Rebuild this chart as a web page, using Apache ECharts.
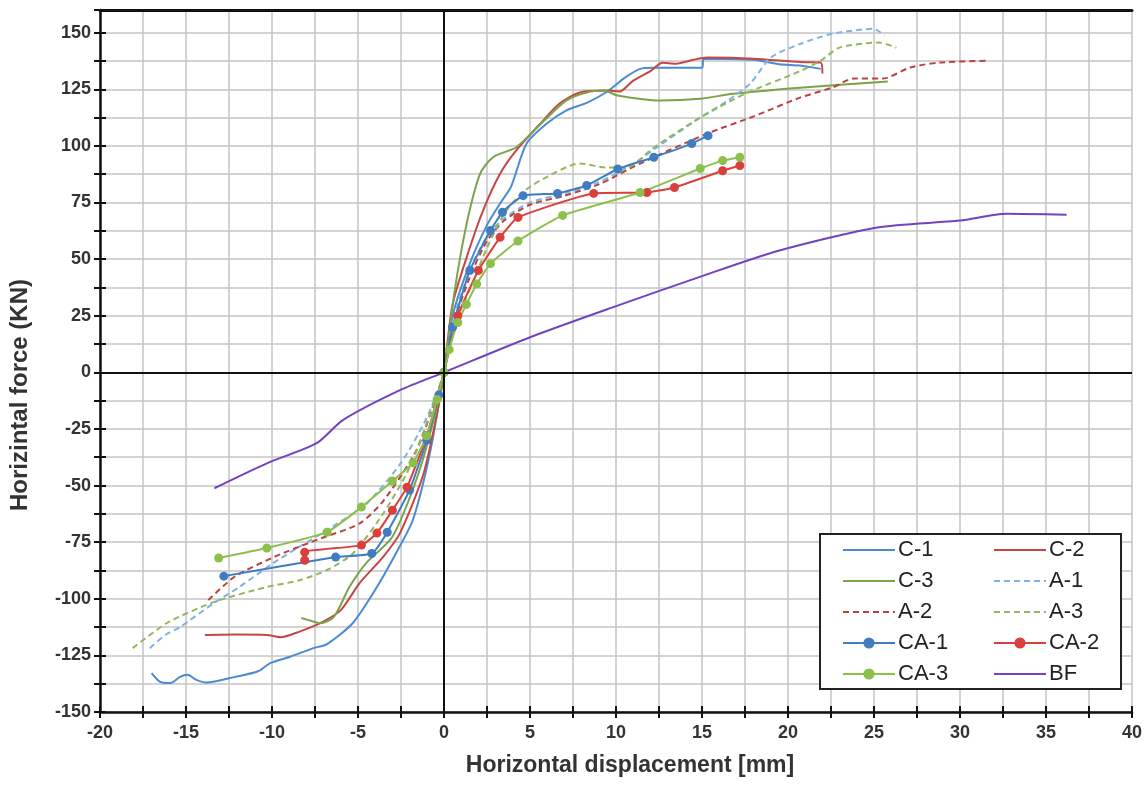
<!DOCTYPE html>
<html>
<head>
<meta charset="utf-8">
<script src="https://cdn.jsdelivr.net/npm/echarts@6/dist/echarts.min.js"></script>
<style>html,body{margin:0;padding:0;background:#fff}#c{width:1146px;height:787px}</style>
</head>
<body>
<div id="c"></div>
<script>
// ---- data: [displacement mm, force kN] ----
const seriesNames = ['C-1','C-2','C-3','A-1','A-2','A-3','CA-1','CA-2','CA-3','BF'];
const xTicks = [-20,-15,-10,-5,0,5,10,15,20,25,30,35,40];
const yTicks = [-150,-125,-100,-75,-50,-25,0,25,50,75,100,125,150];

const c1 = [[-17,-132.8],[-16.5,-136.7],[-15.9,-137.2],[-15.35,-134.5],[-14.9,-133.6],[-14.4,-135.8],[-13.8,-137],[-12.2,-134.6],[-10.8,-132],[-10.1,-128.4],[-8.95,-125.6],[-7.6,-121.8],[-6.8,-120],[-5.3,-110.7],[-3.9,-94.8],[-2.8,-80],[-1.8,-65],[-0.8,-35],[0,0],[0.5,25],[1.5,48],[2.5,65],[3.3,75],[3.9,82],[4.8,101],[6,110],[7.1,115.6],[8.3,119],[9.5,124],[10.5,130],[11.4,134],[12.2,134.5],[15,134.5],[15.1,138.5],[18,138],[19.5,136],[20.7,135.5],[21.9,134]];
const c2 = [[-13.9,-116],[-12,-115.8],[-10.3,-116],[-9.5,-117],[-8.4,-114.5],[-7.2,-110.8],[-6.0,-105],[-4.9,-93],[-3.55,-81.6],[-2.56,-71],[-1.2,-45],[-0.4,-18],[0,0],[0.5,30],[1.5,55],[2.3,72],[3.26,87.7],[4.2,98],[5.6,109.8],[6.7,118.6],[7.9,123.6],[9.5,124.4],[10.2,124],[11,128.8],[12,133],[12.7,136.7],[13.5,136.3],[14.5,138],[15.3,139],[18,138.5],[20.7,137],[21.9,136.8],[22,132]];
const c3 = [[-8.3,-108.5],[-7.6,-110],[-7.2,-110.8],[-6.4,-108],[-5.5,-94.8],[-4.5,-84],[-3.0,-72.6],[-1.5,-45],[-0.5,-18],[0,0],[0.6,35],[1.3,65],[2.1,87.7],[2.85,95],[4.2,99.4],[5.8,111],[7.1,120],[8.3,123.6],[9.3,124.4],[10.1,122.2],[12.6,120],[14.9,120.8],[16.8,123],[20.7,125.7],[25.8,128.4]];
const a1 = [[-17.1,-121.8],[-16.2,-116],[-15.35,-112.5],[-13.4,-102],[-11.9,-94.8],[-9.94,-84.3],[-8.4,-77],[-6.45,-68],[-4.5,-58],[-2.5,-40],[-1,-20],[0,0],[0.5,22],[1.5,45],[2.5,60],[3.5,68],[5,75],[7,79],[9,84],[11,92],[12.5,100],[14.9,112.5],[16.5,120],[17.8,127.5],[19,139],[20.7,145],[22.6,149.5],[25,151.7],[25.6,148.6]];
const a2 = [[-13.7,-100.6],[-12.2,-90.4],[-9.9,-81.6],[-7.4,-74],[-4.9,-66.7],[-3.5,-56.5],[-1.6,-34.4],[-0.5,-12],[0,0],[0.5,20],[1.5,42],[2.5,58],[3.5,67],[5,74],[7,78],[9,83],[11.4,92.2],[15.3,105.4],[18,113],[20.7,121.3],[22.6,125.8],[23.8,129.7],[25.5,129.7],[27.1,134.6],[28.8,136.8],[31.7,137.6]];
const a3 = [[-18.1,-121.8],[-16.1,-110.7],[-13.4,-101.5],[-10.3,-94.8],[-8.4,-91.8],[-6.8,-87.3],[-5.3,-80],[-3.5,-62],[-2,-42],[-0.8,-18],[0,0],[0.4,15],[1.0,28],[1.7,40],[2.5,55],[3.5,70],[4.5,79],[5.6,84.7],[7.9,92.2],[9.5,90.4],[10.6,90.4],[12.2,99.3],[14.9,112.5],[17.5,123],[20.7,133],[21.9,137.6],[23.0,143.4],[25.3,145.6],[26.3,143.4]];
const ca1 = [[-12.8,-90],[-6.3,-81.6],[-4.2,-80],[-3.3,-70.6],[-2.0,-52],[-1,-30],[-0.3,-10],[0,0],[0.5,20],[1.5,45],[2.7,62.6],[3.4,70.7],[4.6,78],[6.6,79],[8.3,82.5],[10.1,89.8],[12.2,95],[14.4,101],[15.35,104.5]];
const ca2 = [[-8.1,-83],[-8.1,-79.4],[-4.8,-76.3],[-3.9,-71],[-3.0,-60.9],[-2.15,-50.7],[-1,-28],[0,0],[0.8,25],[2,45],[3.26,59.6],[4.3,68.4],[8.7,79],[11.8,79.4],[13.4,81.6],[16.2,89],[17.2,91.3]];
const ca3 = [[-13.1,-82],[-10.3,-77.6],[-6.8,-70.6],[-4.8,-59.5],[-3,-48],[-1.8,-40],[-1.0,-28],[-0.4,-12],[0,0],[0.3,10],[0.8,22],[1.3,30],[1.9,39],[2.7,48],[4.3,58],[6.9,69.3],[11.4,79.4],[14.9,90],[16.2,93.5],[17.2,95]];
const bf = [[-13.35,-51.2],[-10.3,-40.2],[-7.4,-31.3],[-5.9,-21.2],[-2.56,-7.9],[0,0],[5,15.5],[9.8,28.7],[15,42.5],[19.5,53.8],[25.2,64],[30,67],[32.7,70],[36.2,69.6]];

const colors = {
  'C-1':'#4a8bd2','C-2':'#c44744','C-3':'#7ba34a','A-1':'#7fb2e5','A-2':'#b8433f','A-3':'#92b75c',
  'CA-1':'#3f7cc2','CA-2':'#d9403b','CA-3':'#8cc04c','BF':'#7442c0'
};
const markerSeries = ['CA-1','CA-2','CA-3'];
const FONT = '"Liberation Sans", Arial, sans-serif';

function lineSeries(name, data, opts) {
  opts = opts || {};
  return Object.assign({
    name: name, type: 'line', data: data,
    smooth: opts.marker ? 0.15 : 0.25,
    symbol: opts.marker ? 'circle' : 'none',
    symbolSize: 9,
    showSymbol: !!opts.marker,
    color: colors[name],
    lineStyle: { width: 2, type: opts.dashed ? [6, 4] : 'solid', color: colors[name] },
    itemStyle: { color: colors[name] },
    animation: false, z: 3
  }, opts.extra || {});
}

const series = [
  lineSeries('C-1', c1),
  lineSeries('C-2', c2),
  lineSeries('C-3', c3),
  lineSeries('A-1', a1, {dashed: true}),
  lineSeries('A-2', a2, {dashed: true}),
  lineSeries('A-3', a3, {dashed: true}),
  lineSeries('CA-1', ca1, {marker: true}),
  lineSeries('CA-2', ca2, {marker: true}),
  lineSeries('CA-3', ca3, {marker: true}),
  lineSeries('BF', bf, {extra: {
    markLine: {
      silent: true, symbol: 'none', animation: false,
      label: { show: false },
      lineStyle: { color: '#111', width: 2, type: 'solid' },
      data: [{ xAxis: 0 }, { yAxis: 0 }]
    }
  }})
];

function legendItems(names) {
  return names.map(n => markerSeries.indexOf(n) >= 0 ? { name: n } : { name: n, itemStyle: { opacity: 0 } });
}

const legendCommon = {
  orient: 'vertical', padding: 0, itemWidth: 52, itemHeight: 14, itemGap: 9,
  textStyle: { fontFamily: FONT, fontSize: 22, color: '#222', lineHeight: 22, padding: [0,0,0,-2] },
  z: 10
};

const tickAxisCommon = {
  axisLine: { show: false, onZero: false }, axisLabel: { show: false }, splitLine: { show: false },
  axisTick: { show: true, inside: true, length: 6, lineStyle: { color: '#111', width: 2 } }
};

const option = {
  backgroundColor: '#fff',
  animation: false,
  grid: { left: 100, right: 14, top: 10, bottom: 75, containLabel: false },
  graphic: [{
    type: 'rect', z: 5,
    shape: { x: 820, y: 534, width: 301, height: 155 },
    style: { fill: '#fff', stroke: '#222', lineWidth: 2 }
  }],
  legend: [
    Object.assign({}, legendCommon, { left: 842, top: 539, data: legendItems(['C-1','C-3','A-2','CA-1','CA-3']) }),
    Object.assign({}, legendCommon, { left: 993, top: 539, data: legendItems(['C-2','A-1','A-3','CA-2','BF']) })
  ],
  xAxis: [{
    type: 'value', min: -20, max: 40, interval: 2.5,
    name: 'Horizontal displacement [mm]', nameLocation: 'middle', nameGap: 42,
    nameTextStyle: { fontFamily: FONT, fontSize: 23, fontWeight: 'bold', color: '#333', padding: [0,0,0,28] },
    axisLine: { onZero: false, lineStyle: { color: '#111', width: 2.5 } },
    axisTick: { show: true, length: 6, lineStyle: { color: '#111', width: 2 } },
    axisLabel: { fontFamily: FONT, fontSize: 18, fontWeight: 'bold', color: '#333', margin: 12,
      formatter: v => (xTicks.indexOf(v) >= 0 ? String(v) : '') },
    splitLine: { show: true, lineStyle: { color: '#c4c4c4', width: 1.5 } }
  }, {
    type: 'value', position: 'top', min: -20, max: 40,
    axisLine: { onZero: false, lineStyle: { color: '#111', width: 3 } },
    axisTick: { show: false }, axisLabel: { show: false }, splitLine: { show: false }
  }, Object.assign({
    type: 'value', position: 'bottom', min: -20, max: 40, interval: 2.5
  }, tickAxisCommon)],
  yAxis: [{
    type: 'value', min: -150, max: 160, interval: 12.5,
    name: 'Horizintal force (KN)', nameLocation: 'middle', nameGap: 68,
    nameTextStyle: { fontFamily: FONT, fontSize: 24, fontWeight: 'bold', color: '#333', padding: [0,68,0,0] },
    axisLine: { onZero: false, lineStyle: { color: '#111', width: 2.5 } },
    axisTick: { show: true, length: 6, lineStyle: { color: '#111', width: 2 } },
    axisLabel: { fontFamily: FONT, fontSize: 18, fontWeight: 'bold', color: '#333', margin: 9,
      formatter: v => (yTicks.indexOf(v) >= 0 ? String(v) : '') },
    splitLine: { show: true, lineStyle: { color: '#c4c4c4', width: 1.5 } }
  }, Object.assign({
    type: 'value', position: 'left', offset: 0, min: -150, max: 160, interval: 12.5
  }, tickAxisCommon)],
  series: series
};

const chart = echarts.init(document.getElementById('c'), null, { renderer: 'canvas' });
chart.setOption(option);
</script>
</body>
</html>
